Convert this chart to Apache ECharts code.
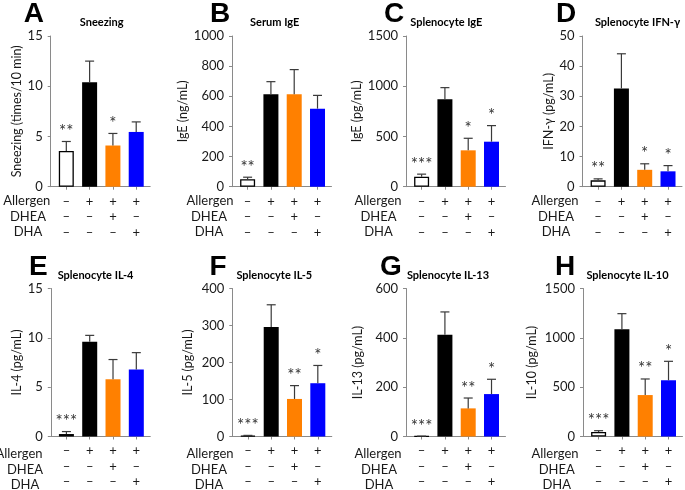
<!DOCTYPE html>
<html><head><meta charset="utf-8">
<script src="https://cdn.jsdelivr.net/npm/echarts@6/dist/echarts.min.js"></script>
<style>html,body{margin:0;padding:0;background:#fff}#c{width:685px;height:490px}</style>
</head><body><div id="c"></div>
<script>
// ---- data ----
const groups = ['Control', 'Allergen', 'Allergen + DHEA', 'Allergen + DHA'];
const allergenRow = ['–', '+', '+', '+'];
const dheaRow = ['–', '–', '+', '–'];
const dhaRow = ['–', '–', '–', '+'];
const rowNames = ['Allergen', 'DHEA', 'DHA'];
const barColors = ['#ffffff', '#000000', '#ff8000', '#0000ff'];

const sneezingMean = [3.55, 10.4, 4.1, 5.45];
const sneezingErr = [0.95, 2.1, 1.2, 1.0];
const sneezingSig = ['**', '', '*', ''];

const serumIgEMean = [50, 613, 613, 518];
const serumIgEErr = [13, 84, 164, 88];
const serumIgESig = ['**', '', '', ''];

const splIgEMean = [100, 870, 362, 448];
const splIgEErr = [25, 116, 120, 160];
const splIgESig = ['***', '', '*', '*'];

const ifngMean = [2.1, 32.6, 5.6, 5.1];
const ifngErr = [0.5, 11.5, 2.0, 1.9];
const ifngSig = ['**', '', '*', '*'];

const il4Mean = [0.25, 9.6, 5.8, 6.8];
const il4Err = [0.25, 0.65, 2.0, 1.7];
const il4Sig = ['***', '', '', ''];

const il5Mean = [2, 296, 101.5, 144];
const il5Err = [1, 60, 36, 48];
const il5Sig = ['***', '', '**', '*'];

const il13Mean = [1, 412, 114, 172];
const il13Err = [0.5, 93, 42, 60];
const il13Sig = ['***', '', '**', '*'];

const il10Mean = [46, 1086, 420, 570];
const il10Err = [13, 159, 163, 192];
const il10Sig = ['***', '', '**', '*'];

const yTicks = {
  A: [0, 15, 5], B: [0, 1000, 200], C: [0, 1500, 500], D: [0, 50, 10],
  E: [0, 15, 5], F: [0, 400, 100], G: [0, 600, 200], H: [0, 1500, 500]
};

// ---- panel layout ----
const panels = [
  {id:'A', title:'Sneezing', yName:'Sneezing (times/10 min)', mean:sneezingMean, err:sneezingErr, sig:sneezingSig,
   left:50.7, top:36, h:150.7, titleX:101.7, letterX:33.8, rowX:[26.7, 28], gap:26},
  {id:'B', title:'Serum IgE', yName:'IgE (ng/mL)', mean:serumIgEMean, err:serumIgEErr, sig:serumIgESig,
   left:232, top:36, h:150.7, titleX:274.7, letterX:220, rowX:[210, 209], gap:38.5},
  {id:'C', title:'Splenocyte IgE', yName:'IgE (pg/mL)', mean:splIgEMean, err:splIgEErr, sig:splIgESig,
   left:406, top:36, h:150.7, titleX:446.3, letterX:394, rowX:[378, 378.5], gap:41.5},
  {id:'D', title:'Splenocyte IFN-γ', yName:'IFN-γ (pg/mL)', mean:ifngMean, err:ifngErr, sig:ifngSig,
   left:582.5, top:36, h:150.7, titleX:637.5, letterX:566, rowX:[555, 556], gap:26},
  {id:'E', title:'Splenocyte IL-4', yName:'IL-4 (pg/mL)', mean:il4Mean, err:il4Err, sig:il4Sig,
   left:50.8, top:288.5, h:151, titleX:95.5, letterX:38.3, rowX:[19, 25], gap:26.5},
  {id:'F', title:'Splenocyte IL-5', yName:'IL-5 (pg/mL)', mean:il5Mean, err:il5Err, sig:il5Sig,
   left:232.3, top:288.5, h:151, titleX:274.3, letterX:218, rowX:[210, 209], gap:37.5},
  {id:'G', title:'Splenocyte IL-13', yName:'IL-13 (pg/mL)', mean:il13Mean, err:il13Err, sig:il13Sig,
   left:406, top:288.5, h:151, titleX:448, letterX:391, rowX:[378, 379], gap:42},
  {id:'H', title:'Splenocyte IL-10', yName:'IL-10 (pg/mL)', mean:il10Mean, err:il10Err, sig:il10Sig,
   left:583, top:288.5, h:151, titleX:627.5, letterX:565, rowX:[555, 556.7], gap:45}
];

const FONT = 'Lato';
const TXT = '#1a1a1a';
const AX = '#8a8a8a';
const XMIN = 0.33, XMAX = 4.6, UNIT = 23.3;

const grid = [], xAxis = [], yAxis = [], series = [], graphic = [];

panels.forEach((p, i) => {
  const [ymin, ymax, yint] = yTicks[p.id];
  grid.push({left: p.left, top: p.top, width: (XMAX - XMIN) * UNIT, height: p.h, containLabel: false});
  xAxis.push({
    type: 'value', gridIndex: i, min: XMIN, max: XMAX,
    splitLine: {show: false},
    axisLine: {show: true, onZero: false, lineStyle: {color: AX, width: 1}},
    axisTick: {show: true, length: 3, lineStyle: {color: AX}, customValues: [1, 2, 3, 4]},
    axisLabel: {
      show: true, customValues: [1, 2, 3, 4], margin: 7, lineHeight: 15.5,
      fontFamily: FONT, fontSize: 13, color: TXT,
      formatter: v => {
        const k = Math.round(v) - 1;
        return allergenRow[k] + '\n' + dheaRow[k] + '\n' + dhaRow[k];
      }
    }
  });
  yAxis.push({
    type: 'value', gridIndex: i, min: ymin, max: ymax, interval: yint,
    name: p.yName, nameLocation: 'middle', nameGap: p.gap,
    nameTextStyle: {fontFamily: FONT, fontSize: 12.5, color: TXT},
    splitLine: {show: false},
    axisLine: {show: true, lineStyle: {color: AX, width: 1}},
    axisTick: {show: true, length: 3, lineStyle: {color: AX}},
    axisLabel: {margin: 8, fontFamily: FONT, fontSize: 13, color: TXT, formatter: v => String(v)}
  });
  series.push({
    type: 'bar', xAxisIndex: i, yAxisIndex: i, barWidth: 15,
    data: p.mean.map((m, k) => ({
      value: [k + 1, m],
      name: groups[k],
      itemStyle: {color: barColors[k], borderColor: k === 0 ? '#000' : barColors[k], borderWidth: k === 0 ? 1.3 : 0}
    })),
    animation: false, silent: true
  });
  const sig = p.sig;
  series.push({
    type: 'custom', xAxisIndex: i, yAxisIndex: i, clip: false, z: 5,
    data: p.mean.map((m, k) => [k + 1, m, p.err[k]]),
    renderItem: (params, api) => {
      const x = api.value(0), m = api.value(1), e = api.value(2);
      const b = api.coord([x, m]);
      const t = api.coord([x, m + e]);
      const s = sig[params.dataIndex];
      const children = [
        {type: 'line', shape: {x1: b[0], y1: b[1], x2: t[0], y2: t[1]}, style: {stroke: '#3a3a3a', lineWidth: 1.2}},
        {type: 'line', shape: {x1: t[0] - 4.5, y1: t[1], x2: t[0] + 4.5, y2: t[1]}, style: {stroke: '#3a3a3a', lineWidth: 1.2}}
      ];
      if (s) children.push({type: 'text', x: t[0], y: t[1] - 10,
        style: {text: s, align: 'center', verticalAlign: 'middle', fontFamily: FONT, fontSize: 17, fill: '#333'}});
      return {type: 'group', children};
    },
    animation: false, silent: true
  });
  graphic.push({type: 'text', x: p.titleX, y: p.top - 13.5,
    style: {text: p.title, align: 'center', verticalAlign: 'middle', fontFamily: FONT, fontWeight: 'bold', fontSize: 11, fill: '#000'}});
  graphic.push({type: 'text', x: p.letterX, y: p.top - 21.5,
    style: {text: p.id, align: 'center', verticalAlign: 'middle', fontFamily: 'Liberation Sans', fontWeight: 'bold', fontSize: 28, fill: '#000'}});
  const bottom = p.top + p.h;
  rowNames.forEach((rn, r) => {
    graphic.push({type: 'text', x: r === 0 ? p.rowX[0] : p.rowX[1], y: bottom + 14.6 + r * 15.5,
      style: {text: rn, align: 'center', verticalAlign: 'middle', fontFamily: FONT, fontSize: 13, fill: TXT}});
  });
});

const chart = echarts.init(document.getElementById('c'), null, {renderer: 'canvas'});
chart.setOption({animation: false, backgroundColor: '#fff', grid, xAxis, yAxis, series, graphic});
</script>
</body></html>
